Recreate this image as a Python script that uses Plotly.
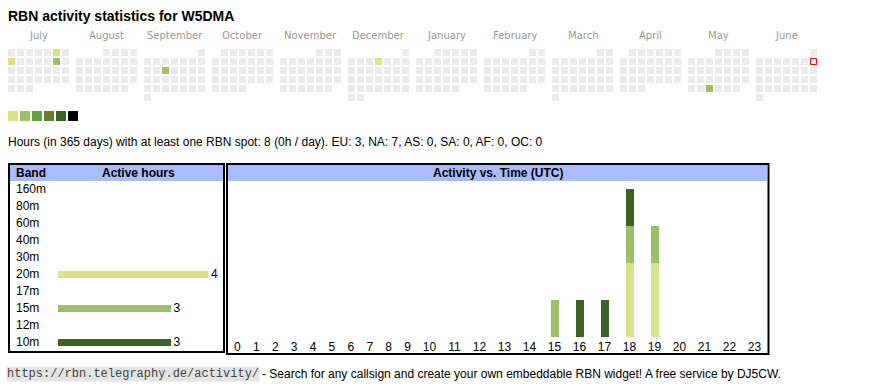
import datetime as dt
import plotly.graph_objects as go

W, H = 870, 390

# ---------------- data ----------------
title_text = "RBN activity statistics for W5DMA"
stats_text = ("Hours (in 365 days) with at least one RBN spot: 8 (0h / day). "
              "EU: 3, NA: 7, AS: 0, SA: 0, AF: 0, OC: 0")
footer_url = "https://rbn.telegraphy.de/activity/"
footer_text = "- Search for any callsign and create your own embeddable RBN widget! A free service by DJ5CW."

calendar_months = ["2024-07", "2024-08", "2024-09", "2024-10", "2024-11", "2024-12",
                   "2025-01", "2025-02", "2025-03", "2025-04", "2025-05", "2025-06"]
month_labels = ["July", "August", "September", "October", "November", "December",
                "January", "February", "March", "April", "May", "June"]
active_days = ["2024-07-06", "2024-07-08", "2024-07-13", "2024-09-11", "2024-12-05", "2025-05-28"]
active_levels = [1, 1, 2, 2, 1, 2]
today = "2025-06-08"

level_colors = ["#dbe28a", "#9dbf69", "#67a044", "#687a38", "#3b6326", "#000000"]
empty_color = "#ebebeb"

bands = ["160m", "80m", "60m", "40m", "30m", "20m", "17m", "15m", "12m", "10m"]
band_hours = [0, 0, 0, 0, 0, 4, 0, 3, 0, 3]
band_colors = {"160m": "#dbe28a", "80m": "#dbe28a", "60m": "#dbe28a", "40m": "#dbe28a",
               "30m": "#dbe28a", "20m": "#dbe28a", "17m": "#dbe28a", "15m": "#9dbf69",
               "12m": "#9dbf69", "10m": "#3b6326"}

hour_labels = ["0", "1", "2", "3", "4", "5", "6", "7", "8", "9", "10", "11",
               "12", "13", "14", "15", "16", "17", "18", "19", "20", "21", "22", "23"]
hourly_20m = [0, 0, 0, 0, 0, 0, 0, 0, 0, 0, 0, 0, 0, 0, 0, 0, 0, 0, 2, 2, 0, 0, 0, 0]
hourly_15m = [0, 0, 0, 0, 0, 0, 0, 0, 0, 0, 0, 0, 0, 0, 0, 1, 0, 0, 1, 1, 0, 0, 0, 0]
hourly_10m = [0, 0, 0, 0, 0, 0, 0, 0, 0, 0, 0, 0, 0, 0, 0, 0, 1, 1, 1, 0, 0, 0, 0, 0]

# ---------------- layout constants ----------------
FONT = "Liberation Sans, Arial, sans-serif"
CELL, PITCH, MONTH_W = 7, 9, 68
CAL_X0, CAL_Y0 = 8, 49
HEADER_BLUE = "#aabbff"
TXT_PAD = 2  # annotation inner padding


def px_x(p):
    return p / W


def px_y(p):
    return 1 - p / H


# ---------------- calendar cells ----------------
act = dict(zip(active_days, active_levels))
cx, cy, ccol = [], [], []
today_xy = None
for mi, ym in enumerate(calendar_months):
    yy, mm = map(int, ym.split("-"))
    first = dt.date(yy, mm, 1)
    nxt = dt.date(yy + (mm == 12), mm % 12 + 1, 1)
    off = first.weekday()
    for d in range((nxt - first).days):
        day = first + dt.timedelta(days=d)
        k = d + off
        x = CAL_X0 + mi * MONTH_W + (k % 7) * PITCH + CELL / 2
        y = CAL_Y0 + (k // 7) * PITCH + CELL / 2
        if day.isoformat() == today:
            today_xy = (x, y)
            continue
        lvl = act.get(day.isoformat(), 0)
        cx.append(x)
        cy.append(y)
        ccol.append(level_colors[lvl - 1] if lvl else empty_color)

fig = go.Figure()

fig.add_trace(go.Scatter(
    x=cx, y=cy, mode="markers", xaxis="x", yaxis="y",
    marker=dict(symbol="square", size=CELL, color=ccol, line=dict(width=0)),
    hoverinfo="skip"))

if today_xy:
    fig.add_trace(go.Scatter(
        x=[today_xy[0]], y=[today_xy[1]], mode="markers", xaxis="x", yaxis="y",
        marker=dict(symbol="square", size=CELL - 1, color="#ffffff",
                    line=dict(width=1, color="#ff0000")),
        hoverinfo="skip"))

# level legend swatches
fig.add_trace(go.Scatter(
    x=[CAL_X0 + 5 + 12 * i for i in range(len(level_colors))],
    y=[116] * len(level_colors), mode="markers", xaxis="x", yaxis="y",
    marker=dict(symbol="square", size=10, color=level_colors, line=dict(width=0)),
    hoverinfo="skip"))

annotations = []
for mi, lab in enumerate(month_labels):
    annotations.append(dict(
        x=CAL_X0 + mi * MONTH_W + (7 * PITCH - 2) / 2, y=35, xref="x", yref="y",
        text=lab, showarrow=False, xanchor="center", yanchor="middle",
        font=dict(family="DejaVu Sans, Verdana, sans-serif", size=10, color="#999999")))

# ---------------- band bars ----------------
fig.add_trace(go.Bar(
    x=band_hours, y=bands, orientation="h", xaxis="x2", yaxis="y2",
    width=7 / 17, marker=dict(color=[band_colors[b] for b in bands], line=dict(width=0)),
    text=[str(v) if v else "" for v in band_hours], textposition="outside",
    textfont=dict(family=FONT, size=12, color="#000000"), constraintext="none",
    cliponaxis=False, hoverinfo="skip"))

for b in bands:
    annotations.append(dict(
        x=px_x(16 - TXT_PAD), y=b, xref="paper", yref="y2", text=b, showarrow=False,
        xanchor="left", yanchor="middle", font=dict(family=FONT, size=12, color="#000000")))

# ---------------- hourly stacked bars ----------------
HOUR_X0, DIGIT_W, CELL_PAD = 228, 6.1, 12.8
centers = []
xpos = HOUR_X0
for lab in hour_labels:
    w = CELL_PAD + DIGIT_W * len(lab)
    centers.append(xpos + w / 2)
    xpos += w

for vals, col in [(hourly_20m, "#dbe28a"), (hourly_15m, "#9dbf69"), (hourly_10m, "#3b6326")]:
    fig.add_trace(go.Bar(
        x=centers, y=vals, xaxis="x3", yaxis="y3", width=8,
        marker=dict(color=col, line=dict(width=0)), hoverinfo="skip"))

UNIT = 37
BAR_BOTTOM, BAR_TOP = 337, 181

# ---------------- boxes / text ----------------
shapes = [
    dict(type="rect", xref="paper", yref="paper", x0=px_x(10), x1=px_x(223),
         y0=px_y(165), y1=px_y(181), fillcolor=HEADER_BLUE, line=dict(width=0), layer="below"),
    dict(type="rect", xref="paper", yref="paper", x0=px_x(228), x1=px_x(767),
         y0=px_y(165), y1=px_y(181), fillcolor=HEADER_BLUE, line=dict(width=0), layer="below"),
    dict(type="rect", xref="paper", yref="paper", x0=px_x(9), x1=px_x(224),
         y0=px_y(164), y1=px_y(352), line=dict(width=2, color="#000000")),
    dict(type="rect", xref="paper", yref="paper", x0=px_x(227), x1=px_x(768.5),
         y0=px_y(164), y1=px_y(354), line=dict(width=2, color="#000000")),
]

annotations += [
    dict(x=px_x(8 - TXT_PAD), y=px_y(16), xref="paper", yref="paper",
         text="<b>" + title_text + "</b>",
         showarrow=False, xanchor="left", yanchor="middle",
         font=dict(family=FONT, size=14, color="#000000")),
    dict(x=px_x(8 - TXT_PAD), y=px_y(142), xref="paper", yref="paper", text=stats_text,
         showarrow=False, xanchor="left", yanchor="middle",
         font=dict(family=FONT, size=12, color="#000000")),
    dict(x=px_x(16 - TXT_PAD), y=px_y(173), xref="paper", yref="paper", text="<b>Band</b>",
         showarrow=False, xanchor="left", yanchor="middle",
         font=dict(family=FONT, size=12, color="#000000")),
    dict(x=px_x(138), y=px_y(173), xref="paper", yref="paper", text="<b>Active hours</b>",
         showarrow=False, xanchor="center", yanchor="middle",
         font=dict(family=FONT, size=12, color="#000000")),
    dict(x=px_x(497.5), y=px_y(173), xref="paper", yref="paper",
         text="<b>Activity vs. Time (UTC)</b>", showarrow=False, xanchor="center",
         yanchor="middle", font=dict(family=FONT, size=12, color="#000000")),
    dict(x=px_x(6), y=px_y(374), xref="paper", yref="paper", text=footer_url,
         showarrow=False, xanchor="left", yanchor="middle", bgcolor="#e4e4e4", borderpad=0,
         font=dict(family="Liberation Mono, Courier New, monospace", size=12, color="#444444")),
    dict(x=px_x(262 - TXT_PAD), y=px_y(374), xref="paper", yref="paper", text=footer_text,
         showarrow=False, xanchor="left", yanchor="middle",
         font=dict(family=FONT, size=12, color="#000000")),
]

hidden = dict(visible=False, fixedrange=True)
fig.update_layout(
    width=W, height=H, margin=dict(l=0, r=0, t=0, b=0, pad=0),
    paper_bgcolor="#ffffff", plot_bgcolor="rgba(0,0,0,0)",
    showlegend=False, hovermode=False, dragmode=False, barmode="stack",
    xaxis=dict(domain=[0, 1], range=[0, W], anchor="y", **hidden),
    yaxis=dict(domain=[0, 1], range=[H, 0], anchor="x", **hidden),
    xaxis2=dict(domain=[px_x(58), px_x(208)], range=[0, max(band_hours)], anchor="y2", **hidden),
    yaxis2=dict(domain=[px_y(350.5), px_y(180.5)], range=[len(bands) - 0.5, -0.5],
                type="category", categoryorder="array", categoryarray=bands,
                anchor="x2", **hidden),
    xaxis3=dict(domain=[0, 1], range=[0, W], anchor="y3", tickmode="array",
                tickvals=centers, ticktext=hour_labels, ticks="", showgrid=False,
                zeroline=False, showline=False, fixedrange=True, ticklabelstandoff=1,
                tickfont=dict(family=FONT, size=12, color="#000000")),
    yaxis3=dict(domain=[px_y(BAR_BOTTOM), px_y(BAR_TOP)],
                range=[0, (BAR_BOTTOM - BAR_TOP) / UNIT], anchor="x3", **hidden),
    shapes=shapes, annotations=annotations,
)

fig.write_html("out.html", config={"displayModeBar": False, "staticPlot": True},
               post_script="document.body.style.margin='0';")
